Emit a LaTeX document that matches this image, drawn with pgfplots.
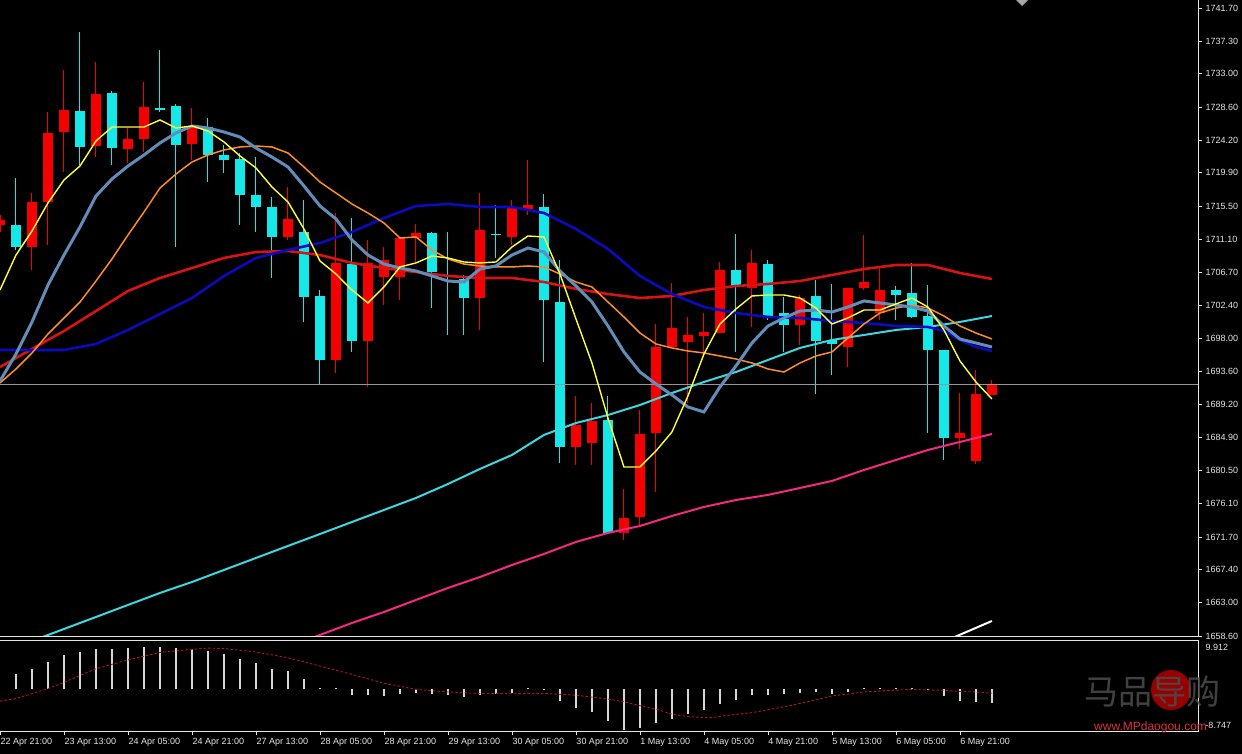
\documentclass[border=0pt]{standalone}
\usepackage{pgfplots}
\pgfplotsset{compat=1.18}
\usepackage{pgfplotstable}
\usepackage{fontspec}
\setmainfont{Liberation Sans}
\newfontfamily\cjk{Noto Sans CJK SC}

\definecolor{cred}{RGB}{245,0,0}
\definecolor{ccyan}{RGB}{20,232,232}
\definecolor{mayellow}{RGB}{255,255,60}
\definecolor{masteel}{RGB}{100,140,185}
\definecolor{maorange}{RGB}{255,140,40}
\definecolor{mared}{RGB}{215,20,20}
\definecolor{mablue}{RGB}{10,10,190}
\definecolor{macyan}{RGB}{60,215,225}
\definecolor{mapink}{RGB}{245,40,130}
\definecolor{histgray}{RGB}{215,215,215}
\definecolor{sigred}{RGB}{180,20,40}
\definecolor{pricegray}{RGB}{150,150,155}
\definecolor{labelwhite}{RGB}{230,230,230}

% bullish candles (red): j open high low close
\pgfplotstableread{
j o h l c
0 1712.98 1714.31 1712.06 1713.65
2 1710.07 1717.22 1707.03 1716.03
3 1716.03 1727.94 1710.34 1725.16
4 1725.29 1733.50 1720.00 1728.20
6 1723.44 1734.55 1721.98 1730.32
8 1723.04 1725.82 1721.19 1724.36
9 1724.36 1731.91 1722.64 1728.60
12 1723.70 1728.47 1721.59 1725.95
18 1711.40 1718.01 1711.00 1713.78
21 1695.12 1714.57 1693.40 1707.96
23 1697.63 1711.00 1691.55 1707.96
24 1706.10 1710.07 1702.40 1708.35
25 1706.10 1711.40 1703.06 1711.26
26 1711.26 1713.12 1708.09 1711.93
30 1703.32 1717.22 1699.09 1712.32
32 1711.40 1716.29 1710.34 1715.23
33 1715.10 1721.59 1714.31 1715.63
36 1683.61 1690.36 1681.22 1686.52
37 1684.14 1689.43 1681.22 1687.05
39 1672.23 1678.05 1671.30 1674.21
40 1674.34 1688.50 1673.02 1685.33
41 1685.46 1699.88 1677.65 1696.84
42 1696.84 1705.31 1696.84 1699.35
43 1697.50 1700.81 1689.43 1698.43
44 1698.30 1701.34 1696.05 1698.82
45 1698.69 1708.09 1698.69 1707.03
47 1704.65 1709.68 1699.49 1707.96
50 1699.75 1703.72 1697.10 1703.32
53 1696.84 1704.65 1694.19 1704.65
54 1704.65 1711.66 1704.38 1705.44
55 1701.34 1707.29 1700.41 1704.38
60 1684.80 1690.75 1683.34 1685.46
61 1681.75 1693.80 1681.36 1690.62
62 1690.49 1692.47 1690.49 1691.94
}\bull

% bearish candles (cyan): j open high low close
\pgfplotstableread{
j o h l c
1 1712.98 1719.20 1709.68 1710.07
5 1728.07 1738.52 1720.92 1723.31
7 1730.45 1730.72 1720.92 1723.17
10 1728.47 1736.14 1727.94 1728.20
11 1728.73 1729.00 1710.07 1723.57
13 1725.95 1727.14 1718.67 1722.25
14 1722.25 1723.57 1719.87 1721.59
15 1721.72 1722.51 1712.98 1716.95
16 1716.95 1721.98 1712.06 1715.37
17 1715.37 1716.69 1705.97 1711.40
19 1712.06 1716.29 1700.15 1703.46
20 1703.59 1704.38 1691.81 1695.12
22 1707.82 1713.91 1696.18 1697.63
27 1711.93 1712.06 1702.00 1706.76
28 1706.65 1712.06 1698.43 1706.65
29 1705.84 1706.37 1698.43 1703.32
31 1711.85 1715.63 1708.62 1711.65
34 1715.37 1717.09 1694.86 1703.06
35 1702.79 1708.35 1681.49 1683.61
38 1687.18 1690.36 1672.10 1672.23
46 1707.03 1711.79 1696.18 1704.91
48 1707.82 1708.35 1700.41 1700.68
49 1701.34 1703.46 1696.18 1699.75
51 1703.59 1705.71 1690.62 1697.63
52 1697.77 1705.18 1693.13 1697.24
56 1704.38 1704.91 1700.41 1703.72
57 1703.99 1707.96 1700.68 1700.81
58 1700.94 1705.04 1685.46 1696.44
59 1696.44 1696.44 1681.89 1684.80
}\bear

\pgfplotstableread{
j p
0 1704.38
1 1709.01
2 1712.19
3 1715.90
4 1718.94
5 1720.79
6 1724.10
7 1725.95
8 1725.95
9 1725.95
10 1726.88
11 1725.82
12 1726.09
13 1725.42
14 1723.97
15 1722.12
16 1720.53
17 1718.01
18 1716.03
19 1712.45
20 1708.22
21 1706.50
22 1704.38
23 1702.66
24 1704.78
25 1707.43
26 1707.96
27 1708.88
28 1708.62
29 1708.09
30 1707.96
31 1708.09
32 1710.07
33 1711.53
34 1711.40
35 1706.50
36 1700.55
37 1694.72
38 1687.44
39 1680.96
40 1680.96
41 1683.08
42 1685.59
43 1690.36
44 1695.91
45 1699.88
46 1701.87
47 1703.59
48 1703.72
49 1703.72
50 1703.32
51 1702.00
52 1699.88
53 1700.68
54 1701.73
55 1701.73
56 1702.53
57 1703.32
58 1702.13
59 1699.09
60 1694.99
61 1692.21
62 1689.96
}\mayel

\pgfplotstableread{
j p
0 1692.34
1 1695.91
2 1700.15
3 1705.04
4 1709.01
5 1712.72
6 1716.82
7 1719.07
8 1720.79
9 1722.25
10 1723.84
11 1725.16
12 1726.09
13 1725.82
14 1725.29
15 1724.63
16 1723.17
17 1721.98
18 1720.66
19 1718.15
20 1715.50
21 1713.78
22 1711.00
23 1709.01
24 1707.82
25 1707.29
26 1706.90
27 1706.24
28 1705.57
29 1705.44
30 1707.16
31 1707.56
32 1709.01
33 1709.94
34 1709.41
35 1706.90
36 1704.91
37 1702.79
38 1699.62
39 1696.18
40 1693.53
41 1691.94
42 1690.49
43 1688.90
44 1688.24
45 1691.55
46 1694.33
47 1697.37
48 1699.62
49 1700.68
50 1701.60
51 1701.73
52 1701.47
53 1702.13
54 1702.93
55 1702.66
56 1702.40
57 1702.13
58 1701.60
59 1699.62
60 1697.90
61 1697.37
62 1696.84
}\masteeltab

\pgfplotstableread{
j p
0 1692.08
1 1693.93
2 1696.05
3 1698.56
4 1700.68
5 1702.79
6 1705.57
7 1708.49
8 1711.66
9 1714.70
10 1717.88
11 1719.73
12 1721.32
13 1722.25
14 1722.91
15 1723.31
16 1723.44
17 1723.31
18 1722.51
19 1720.66
20 1718.67
21 1717.22
22 1715.76
23 1714.57
24 1713.25
25 1711.26
26 1711.40
27 1709.68
28 1708.49
29 1707.82
30 1707.56
31 1707.43
32 1707.43
33 1707.56
34 1707.43
35 1706.50
36 1705.44
37 1704.78
38 1702.79
39 1700.81
40 1698.69
41 1697.24
42 1696.71
43 1696.31
44 1696.05
45 1695.65
46 1695.25
47 1694.72
48 1693.93
49 1693.53
50 1694.72
51 1695.65
52 1696.18
53 1698.03
54 1699.88
55 1701.34
56 1701.99
57 1702.40
58 1702.00
59 1700.94
60 1699.62
61 1698.69
62 1697.90
}\maora

\pgfplotstableread{
j p
0 1694.19
2 1696.58
4 1698.96
6 1701.60
8 1704.25
10 1705.97
12 1707.29
14 1708.62
16 1709.41
18 1709.54
20 1709.01
22 1707.96
24 1707.29
26 1706.76
28 1706.24
30 1705.97
32 1705.97
34 1705.44
36 1704.52
38 1703.85
40 1703.32
42 1703.59
44 1704.38
46 1704.91
48 1705.18
50 1705.57
52 1706.37
54 1707.16
56 1707.69
58 1707.69
60 1706.63
62 1705.84
}\maredtab

\pgfplotstableread{
j p
0 1696.44
2 1696.44
4 1696.44
6 1697.24
8 1699.09
10 1701.21
12 1703.32
14 1706.24
16 1708.62
18 1709.68
20 1710.60
22 1712.06
24 1713.91
26 1715.50
28 1715.76
30 1715.37
32 1715.37
34 1714.57
36 1712.45
38 1709.81
40 1706.24
42 1703.85
44 1702.13
46 1701.34
48 1700.81
50 1700.68
52 1700.28
54 1700.02
56 1699.62
58 1699.49
59 1698.96
60 1697.77
61 1696.84
62 1696.31
}\mabluetab

\pgfplotstableread{
j p
2 1657.93
4 1659.52
6 1661.11
8 1662.70
10 1664.29
12 1665.74
14 1667.33
16 1668.92
18 1670.51
20 1672.09
22 1673.68
24 1675.27
26 1676.86
28 1678.71
30 1680.70
32 1682.55
34 1685.20
36 1686.78
38 1687.84
40 1689.16
42 1690.75
44 1692.21
46 1693.53
48 1695.12
50 1696.71
52 1697.77
54 1698.43
56 1699.09
58 1699.49
60 1700.15
62 1700.94
}\macyantab

\pgfplotstableread{
j p
19 1657.93
20 1658.73
22 1660.32
24 1661.77
26 1663.36
28 1664.95
30 1666.40
32 1667.99
34 1669.45
36 1671.04
38 1672.23
40 1673.15
42 1674.48
44 1675.67
46 1676.59
48 1677.26
50 1678.18
52 1679.11
54 1680.56
56 1681.89
58 1683.21
60 1684.27
62 1685.33
}\mapinktab

\pgfplotstableread{
j m
1 3.06
2 4.14
3 5.58
4 7.02
5 7.65
6 8.37
7 8.37
8 8.55
9 8.73
10 8.73
11 8.55
12 8.37
13 7.83
14 7.20
15 6.30
16 5.31
17 4.23
18 3.69
19 2.16
20 0.36
21 0.18
22 -1.17
23 -1.17
24 -1.35
25 -0.99
26 -0.81
27 -0.99
28 -1.17
29 -1.53
30 -1.17
31 -0.90
32 -0.72
33 0.18
34 0.09
35 -2.43
36 -3.87
37 -4.68
38 -6.48
39 -8.30
40 -7.83
41 -6.84
42 -6.03
43 -5.13
44 -4.23
45 -3.06
46 -2.16
47 -1.26
48 -1.17
49 -0.99
50 -0.81
51 -0.54
52 -0.99
53 -0.45
54 0.18
55 0.18
56 0.36
57 0.36
58 0.09
59 -1.35
60 -2.43
61 -2.61
62 -2.70
}\macdtab

\pgfplotstableread{
j s
0 -2.43
1 -1.89
3 0.14
4 1.44
6 4.23
8 6.03
10 7.56
12 8.19
13 8.46
14 8.37
16 7.65
18 6.48
20 4.77
22 3.06
24 1.26
26 0.00
28 -0.54
30 -0.85
32 -0.90
34 -0.85
36 -1.20
38 -2.00
38.84 -2.43
40.07 -3.42
41.07 -4.14
42.06 -5.13
43.06 -5.58
44.3 -5.85
45.53 -5.31
47.02 -4.77
49 -3.60
51 -2.16
52 -1.35
53 -0.99
54 -0.54
55 -0.36
56 -0.18
57 0.00
58 -0.14
59 -0.18
60 -0.45
61 -0.54
62 -0.81
}\signaltab

\begin{document}
\begin{tikzpicture}[font=\fontsize{9}{10}\selectfont]
\fill[black] (0,0) rectangle (1242pt,754pt);
\path[use as bounding box] (0,0) rectangle (1242pt,754pt);

% ---------------- main price panel ----------------
\begin{axis}[
  at={(0pt,117pt)}, anchor=south west,
  width=1199pt, height=637pt, scale only axis,
  xmin=0, xmax=74.94,
  ymin=1658.46, ymax=1742.76,
  axis line style={draw=none},
  xtick=\empty,
  ytick={1741.70,1737.30,1733.00,1728.60,1724.20,1719.90,1715.50,1711.10,1706.70,1702.40,1698.00,1693.60,1689.20,1684.90,1680.50,1676.10,1671.70,1667.40,1663.00,1658.60},
  yticklabels={1741.70,1737.30,1733.00,1728.60,1724.20,1719.90,1715.50,1711.10,1706.70,1702.40,1698.00,1693.60,1689.20,1684.90,1680.50,1676.10,1671.70,1667.40,1663.00,1658.60},
  ytick pos=right, yticklabel pos=right,
  tick align=outside, major tick length=3pt,
  tick style={labelwhite, line width=0.7pt},
  yticklabel style={text=labelwhite, font=\fontsize{9}{10}\selectfont},
]
% wicks
\addplot[cred, line width=1pt, mark=none, quiver={u=0, v={\thisrow{h}-\thisrow{l}}}] table[x=j, y=l] {\bull};
\addplot[ccyan, line width=1pt, mark=none, quiver={u=0, v={\thisrow{h}-\thisrow{l}}}] table[x=j, y=l] {\bear};
% bodies
\addplot[cred, line width=10.5pt, mark=none, quiver={u=0, v={\thisrow{c}-\thisrow{o}}}] table[x=j, y=o] {\bull};
\addplot[ccyan, line width=10.5pt, mark=none, quiver={u=0, v={\thisrow{o}-\thisrow{c}}}] table[x=j, y=c] {\bear};
% current price line
\addplot[pricegray, line width=0.8pt, mark=none] coordinates {(0,1691.94) (74.94,1691.94)};
% moving averages
\addplot[macyan, line width=2pt, mark=none] table[x=j, y=p] {\macyantab};
\addplot[mapink, line width=2pt, mark=none] table[x=j, y=p] {\mapinktab};
\addplot[white, line width=2pt, mark=none] coordinates {(59.5,1658.30) (62,1660.58)};
\addplot[mared, line width=2.6pt, mark=none] table[x=j, y=p] {\maredtab};
\addplot[mablue, line width=2.6pt, mark=none] table[x=j, y=p] {\mabluetab};
\addplot[maorange, line width=1.5pt, mark=none] table[x=j, y=p] {\maora};
\addplot[masteel, line width=3pt, mark=none] table[x=j, y=p] {\masteeltab};
\addplot[mayellow, line width=1.4pt, mark=none] table[x=j, y=p] {\mayel};
% frame
\draw[labelwhite, line width=1pt] (rel axis cs:0,0) -- (rel axis cs:1,0) -- (rel axis cs:1,1);
\node[fill=white, text=black, anchor=west, inner xsep=3pt, inner ysep=2pt, xshift=1pt, font=\fontsize{9}{10}\selectfont] at (axis cs:74.94,1691.94) {1691.94};
\end{axis}

% ---------------- MACD panel ----------------
\begin{axis}[
  at={(0pt,22pt)}, anchor=south west,
  width=1199pt, height=91pt, scale only axis,
  xmin=0, xmax=74.94,
  ymin=-8.747, ymax=9.912,
  axis line style={draw=none},
  xtick={0,4,8,12,16,20,24,28,32,36,40,44,48,52,56,60},
  xticklabels={22 Apr 21:00,23 Apr 13:00,24 Apr 05:00,24 Apr 21:00,27 Apr 13:00,28 Apr 05:00,28 Apr 21:00,29 Apr 13:00,30 Apr 05:00,30 Apr 21:00,1 May 13:00,4 May 05:00,4 May 21:00,5 May 13:00,6 May 05:00,6 May 21:00},
  xtick pos=left,
  tick align=outside, major tick length=3pt,
  xtick style={labelwhite, line width=0.7pt},
  xticklabel style={anchor=north west, xshift=-3pt, text=labelwhite, font=\fontsize{9}{10}\selectfont},
  ytick={9.912}, yticklabels={9.912},
  ytick pos=right, yticklabel pos=right,
  ytick style={draw=none},
  yticklabel style={anchor=north west, text=labelwhite, font=\fontsize{9}{10}\selectfont},
  extra y ticks={-8.747}, extra y tick labels={-8.747},
  extra y tick style={ytick style={draw=none}, yticklabel style={anchor=south west}},
]
\addplot[histgray, line width=2pt, mark=none, quiver={u=0, v={\thisrow{m}}}] table[x=j, y expr=0] {\macdtab};
\addplot[sigred, line width=0.9pt, dash pattern=on 2.5pt off 2pt, mark=none] table[x=j, y=s] {\signaltab};
\draw[labelwhite, line width=1pt] (rel axis cs:0,1) -- (rel axis cs:1,1) -- (rel axis cs:1,0) -- (rel axis cs:0,0);
\node[anchor=west, text=labelwhite, font=\fontsize{9}{10}\selectfont, xshift=2pt] at (axis cs:74.94,0) {0.00};
\end{axis}

% watermark
\fill[red!75!black, opacity=0.8] (1171pt,64pt) circle (20pt);
\node[text=gray!60!black, opacity=0.85, font=\cjk\fontsize{34}{36}\selectfont, inner sep=0pt] at (1152pt,62pt) {马品导购};
\node[text={rgb,255:red,220;green,50;blue,60}, font=\fontsize{12}{13}\selectfont, inner sep=0pt, anchor=west] at (1094pt,27pt) {www.MPdaogou.com};

% chart-shift marker
\fill[gray!70] (1016pt,754pt) -- (1028pt,754pt) -- (1022pt,748pt) -- cycle;
\end{tikzpicture}
\end{document}
